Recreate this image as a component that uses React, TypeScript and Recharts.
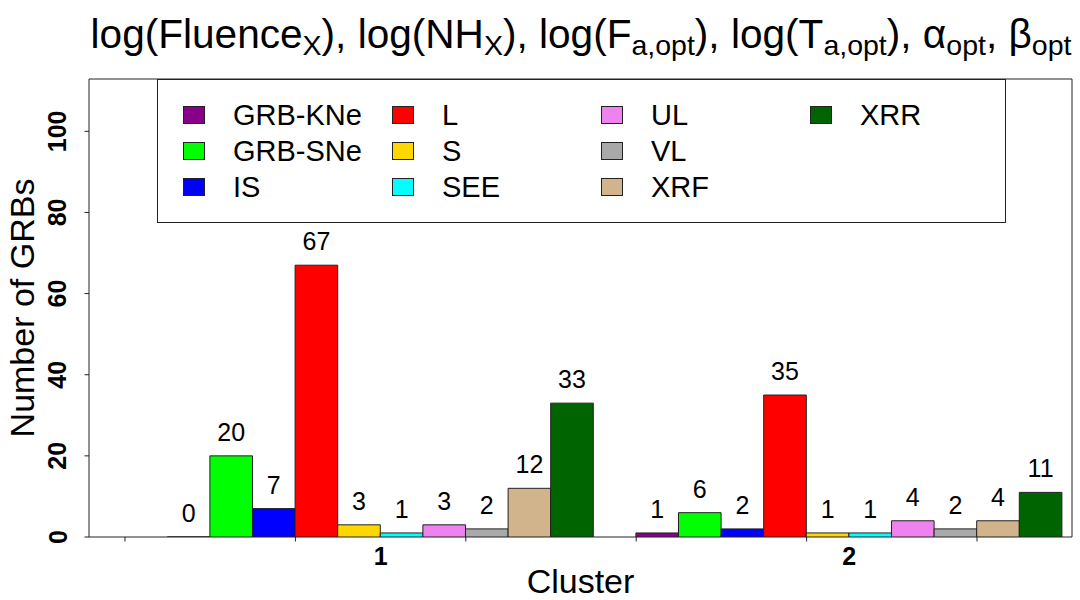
import React from 'react';
import { BarChart, Bar, XAxis, YAxis, Legend, LabelList, Label, ReferenceArea } from 'recharts';

// counts per cluster
const clusters = ['1', '2'];
const grbKNe = [0, 1];
const grbSNe = [20, 6];
const is = [7, 2];
const l = [67, 35];
const s = [3, 1];
const see = [1, 1];
const ul = [3, 4];
const vl = [2, 2];
const xrf = [12, 4];
const xrr = [33, 11];

const classes = ['GRB-KNe', 'GRB-SNe', 'IS', 'L', 'S', 'SEE', 'UL', 'VL', 'XRF', 'XRR'];
const classColors = ['#8B008B', '#00FF00', '#0000FF', '#FF0000', '#FFD700', '#00FFFF', '#EE82EE', '#A9A9A9', '#D2B48C', '#006400'];
const series = [grbKNe, grbSNe, is, l, s, see, ul, vl, xrf, xrr];

const yTicks = [0, 20, 40, 60, 80, 100];
// R barplot axis (bar-width units), ticks drawn without labels
const unitTicks = [0, 4, 8, 12, 16, 20];

// group centre in barplot units: one bar of space before each group
const groupCentre = (i: number) => i * (classes.length + 1) + 1 + classes.length / 2;

const data = clusters.map((c, i) => {
  const row: Record<string, string | number> = { cluster: c, pos: groupCentre(i) };
  classes.forEach((k, j) => { row[k] = series[j][i]; });
  return row;
});
const clusterPos = data.map((d) => d.pos as number);

const FONT = '"Liberation Sans", Arial, Helvetica, sans-serif';
const INK = '#222';
const U_MIN = -0.845;
const U_MAX = 22.23;
const Y_MAX = 112.9;

const UnitTick = (props: any) => {
  const { x, y, payload } = props;
  const idx = clusterPos.indexOf(payload.value);
  if (idx >= 0) {
    return (
      <text x={x} y={y + 28} textAnchor="middle" fontFamily={FONT} fontSize={25} fontWeight="bold" fill="#000">
        {clusters[idx]}
      </text>
    );
  }
  return <line x1={x} y1={y} x2={x} y2={y + 4.5} stroke={INK} strokeWidth={1} />;
};

const YTick = (props: any) => {
  const { x, y, payload } = props;
  return (
    <text x={x} y={y} transform={`rotate(-90, ${x}, ${y})`} textAnchor="middle" fontFamily={FONT} fontSize={25} fontWeight="bold" fill="#000">
      {payload.value}
    </text>
  );
};

const YTitle = (props: any) => {
  const vb = props.viewBox;
  const cx = vb.x + 34;
  const cy = vb.y + vb.height / 2;
  return (
    <text x={cx} y={cy} transform={`rotate(-90, ${cx}, ${cy})`} textAnchor="middle" fontFamily={FONT} fontSize={34} fill="#000">
      Number of GRBs
    </text>
  );
};

const ValueLabel = (props: any) => {
  const { x, y, width, value } = props;
  if (value === undefined || value === null) return null;
  return (
    <text x={x + width / 2} y={y - 15} textAnchor="middle" fontFamily={FONT} fontSize={25} fill="#000">
      {value}
    </text>
  );
};

const LegendBox = (props: any) => {
  const items = props.payload || [];
  return (
    <div style={{
      width: 849, height: 144, boxSizing: 'border-box', border: `1px solid ${INK}`, background: '#fff',
      paddingTop: 17, paddingLeft: 25, display: 'grid', gridAutoFlow: 'column',
      gridTemplateRows: 'repeat(3, 36px)', gridAutoColumns: '209px', fontFamily: FONT,
    }}>
      {items.map((p: any) => (
        <div key={p.value} style={{ display: 'flex', alignItems: 'center' }}>
          <span style={{ width: 22, height: 18, boxSizing: 'border-box', background: p.color, border: `1px solid ${INK}` }} />
          <span style={{ marginLeft: 28, fontSize: 29, lineHeight: '36px', color: '#000' }}>{p.value}</span>
        </div>
      ))}
    </div>
  );
};

const sub = { fontSize: 28.5 };

export default function App() {
  return (
    <div style={{ position: 'absolute', top: 0, left: 0, width: 1080, height: 600, background: '#fff' }}>
      <BarChart
        width={1080}
        height={600}
        data={data}
        margin={{ top: 79, right: 8, bottom: 0, left: 0 }}
        barGap={0}
        barSize={42.6}
      >
        <XAxis
          dataKey="pos"
          type="number"
          domain={[U_MIN, U_MAX]}
          allowDataOverflow
          ticks={[...unitTicks, ...clusterPos].sort((a, b) => a - b)}
          interval={0}
          tick={UnitTick}
          tickLine={false}
          tickSize={0}
          tickMargin={0}
          axisLine={false}
          height={63}
        >
          <Label value="Cluster" position="insideBottom" offset={7} fontFamily={FONT} fontSize={34} fill="#000" />
        </XAxis>
        <YAxis
          domain={[0, Y_MAX]}
          allowDataOverflow
          ticks={yTicks}
          interval={0}
          width={89}
          tick={YTick}
          tickSize={4.5}
          tickMargin={18}
          tickLine={{ stroke: INK }}
          axisLine={false}
          label={<Label content={YTitle} />}
        />
        <ReferenceArea x1={U_MIN} x2={U_MAX} y1={0} y2={Y_MAX} fill="none" fillOpacity={0} stroke={INK} strokeWidth={1} strokeOpacity={1} />
        <Legend
          layout="horizontal"
          verticalAlign="middle"
          align="center"
          wrapperStyle={{ left: 157, top: 79, width: 849 }}
          content={LegendBox}
        />
        {classes.map((k, j) => (
          <Bar key={k} dataKey={k} name={k} fill={classColors[j]} stroke={INK} strokeWidth={1} minPointSize={0.01} isAnimationActive={false}>
            <LabelList dataKey={k} position="top" content={ValueLabel} />
          </Bar>
        ))}
      </BarChart>
      <svg width={1080} height={600} style={{ position: 'absolute', top: 0, left: 0, pointerEvents: 'none' }}>
        <text x={581} y={48} textAnchor="middle" fontFamily={FONT} fontSize={40.6} fill="#000">
          <tspan>log(Fluence</tspan>
          <tspan {...sub} dy={7}>X</tspan>
          <tspan dy={-7}>), log(NH</tspan>
          <tspan {...sub} dy={7}>X</tspan>
          <tspan dy={-7}>), log(F</tspan>
          <tspan {...sub} dy={7}>a,opt</tspan>
          <tspan dy={-7}>), log(T</tspan>
          <tspan {...sub} dy={7}>a,opt</tspan>
          <tspan dy={-7}>), α</tspan>
          <tspan {...sub} dy={7}>opt</tspan>
          <tspan dy={-7}>, β</tspan>
          <tspan {...sub} dy={7}>opt</tspan>
        </text>
      </svg>
    </div>
  );
}
